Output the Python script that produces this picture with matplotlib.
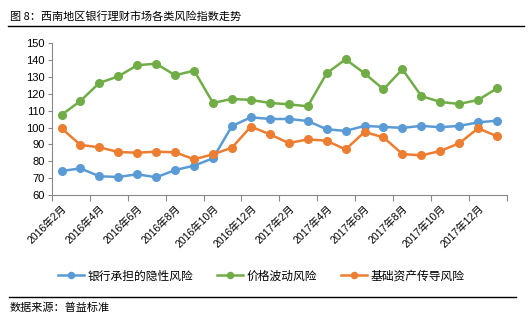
import numpy as np
import matplotlib.pyplot as plt

plt.rcParams['font.family'] = ['Liberation Sans', 'Noto Sans CJK SC']
cjk = ['Noto Sans CJK SC', 'DejaVu Sans']

# 月份（2016年2月 ~ 2018年1月）
months = ['2016年%d月' % m for m in range(2, 13)] + ['2017年%d月' % m for m in range(1, 13)] + ['2018年1月']

bank_risk = [74.2, 75.8, 71.1, 70.7, 72.3, 70.5, 74.8, 77.4, 81.8, 100.9, 106.1, 105.1,
             105.1, 103.9, 99.0, 98.0, 101.0, 100.4, 99.8, 101.0, 100.2, 101.0, 103.1, 104.1]
price_risk = [107.5, 115.8, 126.5, 130.4, 137.0, 137.9, 131.0, 133.8, 114.6, 117.0, 116.4, 114.6,
              113.8, 112.6, 132.2, 140.5, 132.2, 122.7, 134.6, 118.7, 115.2, 114.0, 116.4, 123.3]
asset_risk = [99.6, 89.7, 88.3, 85.5, 85.1, 85.7, 85.3, 81.2, 84.1, 88.1, 100.6, 96.0,
              90.8, 93.0, 92.2, 87.0, 97.4, 94.2, 84.3, 83.5, 86.1, 90.7, 99.6, 94.8]

labels = ['银行承担的隐性风险', '价格波动风险', '基础资产传导风险']
colors = ['#5B9BD5', '#70AD47', '#ED7D31']

fig = plt.figure(figsize=(5.31, 3.25), dpi=100)
ax = fig.add_axes([0.098, 0.4, 0.856, 0.4668])

x = np.arange(len(months))
for ys, lab, c in zip([bank_risk, price_risk, asset_risk], labels, colors):
    ax.plot(x, ys, color=c, lw=1.8, marker='o', ms=5.5, label=lab)

ax.set_xlim(-0.5, len(months) - 0.5)
ax.set_ylim(60, 150)
ax.set_yticks(range(60, 151, 10))
ax.tick_params(axis='y', labelsize=8, length=3, color='#888888', pad=2)

# 刻度线在类别之间，标签每隔一个
ax.set_xticks(np.arange(-0.5, len(months), 2))
ax.set_xticklabels([])
ax.tick_params(axis='x', which='major', length=4, color='#888888')
ax.set_xticks(x[::2], minor=True)
ax.set_xticklabels(months[::2], minor=True, rotation=45, ha='right',
                   rotation_mode='anchor', fontsize=7.5)
ax.tick_params(axis='x', which='minor', length=0, pad=6)

for s in ['top', 'right']:
    ax.spines[s].set_visible(False)
for s in ['left', 'bottom']:
    ax.spines[s].set_color('#888888')

ax.legend(loc='center', bbox_to_anchor=(0.46, -0.534), ncol=3, frameon=False,
          prop={'family': cjk, 'size': 8.5}, handlelength=2.2, handletextpad=0.3,
          columnspacing=2.0, markerscale=0.8)

fig.text(0.019, 0.95, '图 8：西南地区银行理财市场各类风险指数走势', fontsize=8, va='center', family=cjk)
fig.add_artist(plt.Line2D([0.015, 0.987], [0.92, 0.92], color='black', lw=1))
fig.add_artist(plt.Line2D([0.017, 0.972], [0.087, 0.087], color='black', lw=1))
fig.text(0.019, 0.052, '数据来源：普益标准', fontsize=8, va='center', family=cjk)

fig.savefig('out.png', dpi=100)
